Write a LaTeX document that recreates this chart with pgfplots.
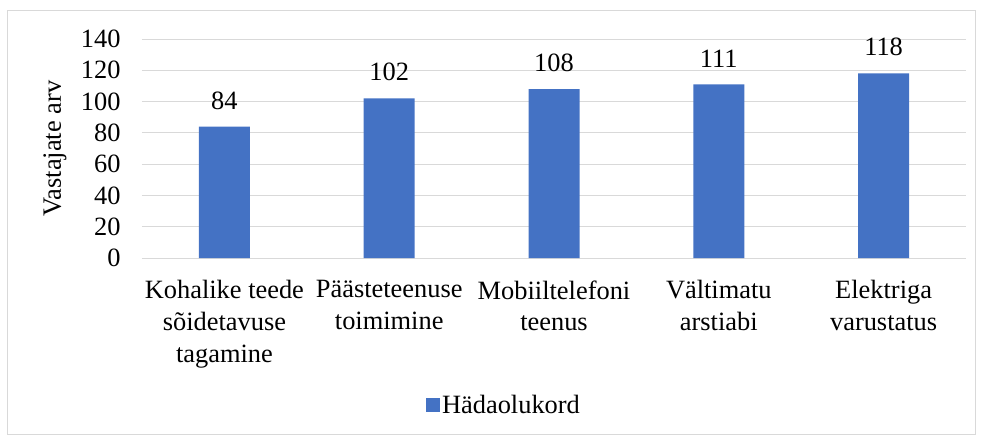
\documentclass[border=0pt]{standalone}
\usepackage{fontspec}
\setmainfont{Liberation Serif}
\usepackage{pgfplots}
\pgfplotsset{compat=1.18}
\definecolor{barblue}{HTML}{4472C4}
\definecolor{gridgray}{HTML}{D9D9D9}
\newcommand{\chartfont}{\fontsize{26.5}{32}\selectfont}
\begin{document}
\begin{tikzpicture}
\useasboundingbox (-142bp,-178bp) rectangle (840bp,258bp);
\draw[gridgray, line width=0.9bp] (-135bp,-176bp) rectangle (833bp,248bp);
\begin{axis}[
  name=ax,
  scale only axis,
  width=824bp, height=219bp,
  /pgf/number format/assume math mode=true,
  ybar, bar width=51bp,
  xmin=-0.5, xmax=4.5,
  ymin=0, ymax=140,
  ytick={0,20,...,140},
  xtick={0,1,2,3,4},
  xticklabels={{Kohalike teede\\sõidetavuse\\tagamine},{Päästeteenuse\\toimimine},{Mobiiltelefoni\\teenus},{Vältimatu\\arstiabi},{Elektriga\\varustatus}},
  tick label style={font=\chartfont},
  xticklabel style={align=center, yshift=-19bp, font=\chartfont},
  yticklabel style={xshift=-18bp, font=\chartfont},
  major tick length=0pt,
  axis line style={draw=none},
  ymajorgrids,
  grid style={gridgray, line width=0.9bp},
  ylabel={Vastajate arv},
  ylabel style={at={(axis description cs:-0.1056,0.5)}, anchor=center, font=\chartfont},
  nodes near coords,
  every node near coord/.append style={anchor=south, inner sep=0pt, yshift=17bp, font=\chartfont, black},
  legend style={at={(0.4393,-0.671)}, anchor=center, draw=none, fill=none, font=\chartfont, inner sep=0pt},
  legend image code/.code={\fill[#1] (0bp,-7bp) rectangle (14bp,7bp);},
]
\addplot[fill=barblue, draw=none] coordinates {(0,84) (1,102) (2,108) (3,111) (4,118)};
\addlegendentry{Hädaolukord}
\end{axis}
\end{tikzpicture}
\end{document}
